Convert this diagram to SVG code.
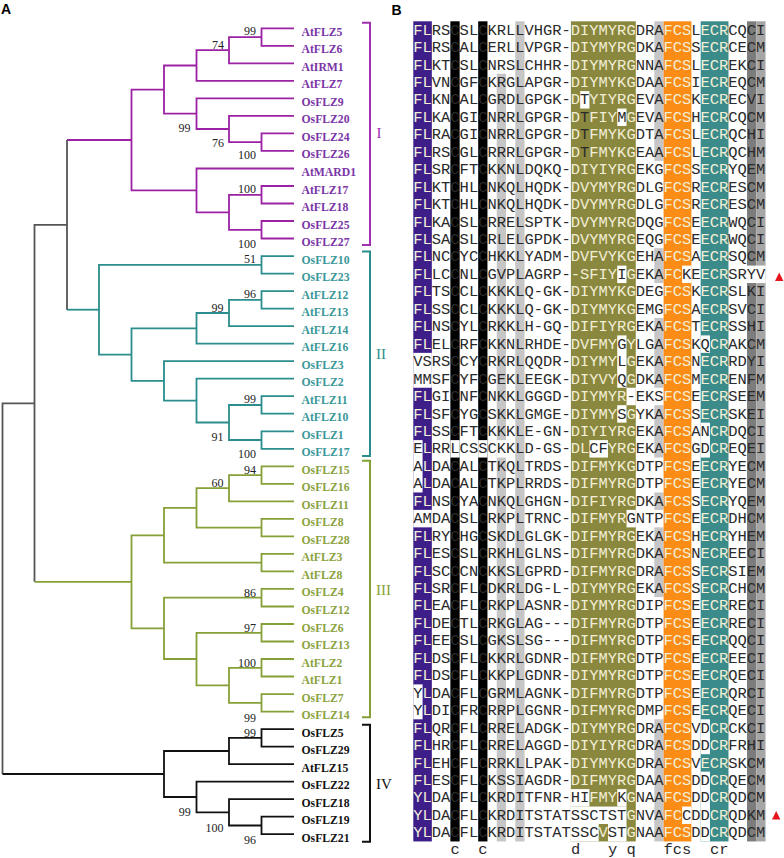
<svg xmlns="http://www.w3.org/2000/svg" width="784" height="858" viewBox="0 0 784 858">
<style>
.lbl{font-family:"Liberation Serif","Times New Roman",serif;font-weight:bold;font-size:11.7px}
.c1{fill:#7a35a6}.c2{fill:#3a9799}.c3{fill:#8aa23e}.c4{fill:#111}
.bs{font-family:"Liberation Serif","Times New Roman",serif;font-size:12px;fill:#222;text-anchor:end}
.rn{font-family:"Liberation Serif","Times New Roman",serif;font-size:15px}
.pn{font-family:"Liberation Sans",Arial,sans-serif;font-weight:bold;font-size:14px;fill:#000}
path{fill:none;stroke-width:1.8}
.t1{stroke:#9b22a3}.t2{stroke:#2b8d8d}.t3{stroke:#86a038}.t4{stroke:#111;stroke-width:2}.t0{stroke:#555;stroke-width:1.3}
.br{stroke-width:2}
.aln{font-family:"Liberation Mono","Courier New",monospace;font-size:15.45px;fill:#2a2a2a}
.w{fill:#f2eed6}
.pu{fill:#3e1f8a}.bk{fill:#000}.lg{fill:#c6c6c6}.ol{fill:#8a883e}.or{fill:#fb8c16}.te{fill:#3b8b8a}.dg{fill:#7c7c7c}.mg{fill:#a6a6a6}.wh{fill:#fff}
.tri{fill:#e8141b}
</style>
<rect width="784" height="858" fill="#fff"/>
<text class="pn" x="1" y="14">A</text>
<text class="pn" x="391.5" y="15">B</text>

<g id="connectors">
<g class="t1">
<path d="M294 28.3H261.5V45.8H294"/>
<path d="M261.5 37.1H229V63.3H294"/>
<path d="M229 50.2H196.5V80.9H294"/>
<path d="M294 133.4H261.5V150.9H294"/>
<path d="M294 115.9H229V142.2H261.5"/>
<path d="M294 98.4H196.5V129H229"/>
<path d="M196.5 65.5H164V113.7H196.5"/>
<path d="M294 186H261.5V203.5H294"/>
<path d="M294 221H261.5V238.5H294"/>
<path d="M261.5 194.8H229V229.8H261.5"/>
<path d="M294 168.5H196.5V212.3H229"/>
<path d="M164 89.6H131.5V190.4H196.5"/>
<path d="M131.5 140H67"/>
</g>
<g class="t2">
<path d="M294 256.1H261.5V273.6H294"/>
<path d="M294 291.1H261.5V308.6H294"/>
<path d="M261.5 299.9H229V326.1H294"/>
<path d="M229 313H196.5V343.7H294"/>
<path d="M294 396.2H261.5V413.7H294"/>
<path d="M294 431.3H261.5V448.8H294"/>
<path d="M261.5 405H229V440H261.5"/>
<path d="M294 378.7H196.5V422.5H229"/>
<path d="M294 361.2H164V400.6H196.5"/>
<path d="M196.5 328.3H131.5V380.9H164"/>
<path d="M261.5 264.8H99V354.6H131.5"/>
<path d="M99 309.7H67"/>
</g>
<g class="t0">
<path d="M67 140V309.7"/>
<path d="M67 224.9H34.5V581.8"/>
<path d="M34.5 403.4H2.5V774"/>
</g>
<g class="t3">
<path d="M294 466.3H261.5V483.8H294"/>
<path d="M261.5 475.1H229V501.3H294"/>
<path d="M294 518.9H261.5V536.4H294"/>
<path d="M229 488.2H196.5V527.6H261.5"/>
<path d="M294 553.9H261.5V571.4H294"/>
<path d="M196.5 507.9H164V562.7H261.5"/>
<path d="M294 588.9H261.5V606.5H294"/>
<path d="M294 624H261.5V641.5H294"/>
<path d="M294 659H261.5V676.5H294"/>
<path d="M294 694.1H261.5V711.6H294"/>
<path d="M261.5 667.8H229V702.8H261.5"/>
<path d="M261.5 632.8H196.5V685.3H229"/>
<path d="M261.5 597.7H164V659H196.5"/>
<path d="M164 535.3H131.5V628.4H164"/>
<path d="M131.5 581.8H34.5"/>
</g>
<g class="t4">
<path d="M294 729.1H261.5V746.6H294"/>
<path d="M261.5 737.9H229V764.1H294"/>
<path d="M294 816.7H261.5V834.2H294"/>
<path d="M294 799.2H229V825.5H261.5"/>
<path d="M294 781.7H196.5V812.3H229"/>
<path d="M229 751H164V797H196.5"/>
<path d="M164 774H2.5"/>
</g>
</g>

<g id="bootstrap" class="bs">
<text x="256" y="35">99</text>
<text x="224" y="49">74</text>
<text x="190.5" y="132.3">99</text>
<text x="224" y="146.7">76</text>
<text x="256" y="159.3">100</text>
<text x="256" y="193.3">100</text>
<text x="256" y="248.3">100</text>
<text x="256" y="263.3">51</text>
<text x="256" y="298.3">96</text>
<text x="223.5" y="311.7">99</text>
<text x="256" y="403.3">99</text>
<text x="223.5" y="440.7">91</text>
<text x="256" y="458.3">100</text>
<text x="256" y="474.3">94</text>
<text x="223.5" y="486.7">60</text>
<text x="256" y="596.7">86</text>
<text x="256" y="631.7">97</text>
<text x="256" y="666.7">100</text>
<text x="256" y="721.7">99</text>
<text x="256" y="737.3">99</text>
<text x="190.7" y="815.7">99</text>
<text x="223.5" y="831.7">100</text>
<text x="256" y="844.3">96</text>
</g>

<g id="leaves" class="lbl">
<g id="leaf-AtFLZ5"><text class="c1" x="301.5" y="35.8">AtFLZ5</text></g>
<g id="leaf-AtFLZ6"><text class="c1" x="301.5" y="53.3">AtFLZ6</text></g>
<g id="leaf-AtIRM1"><text class="c1" x="301.5" y="70.8">AtIRM1</text></g>
<g id="leaf-AtFLZ7"><text class="c1" x="301.5" y="88.4">AtFLZ7</text></g>
<g id="leaf-OsFLZ9"><text class="c1" x="301.5" y="105.9">OsFLZ9</text></g>
<g id="leaf-OsFLZ20"><text class="c1" x="301.5" y="123.4">OsFLZ20</text></g>
<g id="leaf-OsFLZ24"><text class="c1" x="301.5" y="140.9">OsFLZ24</text></g>
<g id="leaf-OsFLZ26"><text class="c1" x="301.5" y="158.4">OsFLZ26</text></g>
<g id="leaf-AtMARD1"><text class="c1" x="301.5" y="176">AtMARD1</text></g>
<g id="leaf-AtFLZ17"><text class="c1" x="301.5" y="193.5">AtFLZ17</text></g>
<g id="leaf-AtFLZ18"><text class="c1" x="301.5" y="211">AtFLZ18</text></g>
<g id="leaf-OsFLZ25"><text class="c1" x="301.5" y="228.5">OsFLZ25</text></g>
<g id="leaf-OsFLZ27"><text class="c1" x="301.5" y="246">OsFLZ27</text></g>
<g id="leaf-OsFLZ10"><text class="c2" x="301.5" y="263.6">OsFLZ10</text></g>
<g id="leaf-OsFLZ23"><text class="c2" x="301.5" y="281.1">OsFLZ23</text></g>
<g id="leaf-AtFLZ12"><text class="c2" x="301.5" y="298.6">AtFLZ12</text></g>
<g id="leaf-AtFLZ13"><text class="c2" x="301.5" y="316.1">AtFLZ13</text></g>
<g id="leaf-AtFLZ14"><text class="c2" x="301.5" y="333.6">AtFLZ14</text></g>
<g id="leaf-AtFLZ16"><text class="c2" x="301.5" y="351.2">AtFLZ16</text></g>
<g id="leaf-OsFLZ3"><text class="c2" x="301.5" y="368.7">OsFLZ3</text></g>
<g id="leaf-OsFLZ2"><text class="c2" x="301.5" y="386.2">OsFLZ2</text></g>
<g id="leaf-AtFLZ11"><text class="c2" x="301.5" y="403.7">AtFLZ11</text></g>
<g id="leaf-AtFLZ10"><text class="c2" x="301.5" y="421.2">AtFLZ10</text></g>
<g id="leaf-OsFLZ1"><text class="c2" x="301.5" y="438.8">OsFLZ1</text></g>
<g id="leaf-OsFLZ17"><text class="c2" x="301.5" y="456.3">OsFLZ17</text></g>
<g id="leaf-OsFLZ15"><text class="c3" x="301.5" y="473.8">OsFLZ15</text></g>
<g id="leaf-OsFLZ16"><text class="c3" x="301.5" y="491.3">OsFLZ16</text></g>
<g id="leaf-OsFLZ11"><text class="c3" x="301.5" y="508.8">OsFLZ11</text></g>
<g id="leaf-OsFLZ8"><text class="c3" x="301.5" y="526.4">OsFLZ8</text></g>
<g id="leaf-OsFLZ28"><text class="c3" x="301.5" y="543.9">OsFLZ28</text></g>
<g id="leaf-AtFLZ3"><text class="c3" x="301.5" y="561.4">AtFLZ3</text></g>
<g id="leaf-AtFLZ8"><text class="c3" x="301.5" y="578.9">AtFLZ8</text></g>
<g id="leaf-OsFLZ4"><text class="c3" x="301.5" y="596.4">OsFLZ4</text></g>
<g id="leaf-OsFLZ12"><text class="c3" x="301.5" y="614">OsFLZ12</text></g>
<g id="leaf-OsFLZ6"><text class="c3" x="301.5" y="631.5">OsFLZ6</text></g>
<g id="leaf-OsFLZ13"><text class="c3" x="301.5" y="649">OsFLZ13</text></g>
<g id="leaf-AtFLZ2"><text class="c3" x="301.5" y="666.5">AtFLZ2</text></g>
<g id="leaf-AtFLZ1"><text class="c3" x="301.5" y="684">AtFLZ1</text></g>
<g id="leaf-OsFLZ7"><text class="c3" x="301.5" y="701.6">OsFLZ7</text></g>
<g id="leaf-OsFLZ14"><text class="c3" x="301.5" y="719.1">OsFLZ14</text></g>
<g id="leaf-OsFLZ5"><text class="c4" x="301.5" y="736.6">OsFLZ5</text></g>
<g id="leaf-OsFLZ29"><text class="c4" x="301.5" y="754.1">OsFLZ29</text></g>
<g id="leaf-AtFLZ15"><text class="c4" x="301.5" y="771.6">AtFLZ15</text></g>
<g id="leaf-OsFLZ22"><text class="c4" x="301.5" y="789.2">OsFLZ22</text></g>
<g id="leaf-OsFLZ18"><text class="c4" x="301.5" y="806.7">OsFLZ18</text></g>
<g id="leaf-OsFLZ19"><text class="c4" x="301.5" y="824.2">OsFLZ19</text></g>
<g id="leaf-OsFLZ21"><text class="c4" x="301.5" y="841.7">OsFLZ21</text></g>
</g>

<g id="clades">
<g id="clade-I"><path class="br" stroke="#a030b0" d="M362 22.7H370V245H362"/><text class="rn" fill="#a030b0" x="376.5" y="138">I</text></g>
<g id="clade-II"><path class="br" stroke="#2b8d8d" d="M362 251.5H370V456H362"/><text class="rn" fill="#2b8d8d" x="376" y="358.5">II</text></g>
<g id="clade-III"><path class="br" stroke="#86a038" d="M362 460.7H370V717.3H362"/><text class="rn" fill="#86a038" x="376" y="595">III</text></g>
<g id="clade-IV"><path class="br" stroke="#111" d="M362 724.7H370V841.7H362"/><text class="rn" fill="#111" x="376" y="788.5">IV</text></g>
</g>

<g id="alignment-shading" transform="translate(413.3 21.3) scale(9.27 17.45)">
<rect class="pu" x="0" y="0" width="2" height="47"/>
<rect class="bk" x="4" y="0" width="1" height="47"/>
<rect class="bk" x="7" y="0" width="1" height="47"/>
<rect class="lg" x="9" y="3" width="1" height="44"/>
<rect class="lg" x="11" y="0" width="1" height="47"/>
<rect class="ol" x="17" y="0" width="7" height="47"/>
<rect class="lg" x="26" y="0" width="1" height="8"/>
<rect class="lg" x="26" y="13" width="1" height="2"/>
<rect class="lg" x="26" y="17" width="1" height="4"/>
<rect class="lg" x="26" y="22" width="1" height="3"/>
<rect class="lg" x="26" y="27" width="1" height="1"/>
<rect class="lg" x="26" y="29" width="1" height="4"/>
<rect class="lg" x="26" y="40" width="1" height="7"/>
<rect class="or" x="27" y="0" width="3" height="47"/>
<rect class="te" x="31" y="0" width="3" height="47"/>
<rect class="dg" x="36" y="0" width="1" height="47"/>
<rect class="mg" x="37" y="0" width="1" height="47"/>
<rect class="wh" x="0" y="19" width="2" height="2"/>
<rect class="wh" x="0" y="28" width="2" height="1"/>
<rect class="wh" x="0" y="24" width="1" height="3"/>
<rect class="wh" x="0" y="38" width="1" height="2"/>
<rect class="wh" x="4" y="24" width="1" height="1"/>
<rect class="wh" x="7" y="24" width="1" height="1"/>
<rect class="wh" x="9" y="24" width="1" height="1"/>
<rect class="wh" x="18" y="4" width="1" height="1"/>
<rect class="wh" x="22" y="5" width="1" height="1"/>
<rect class="wh" x="22" y="14" width="1" height="1"/>
<rect class="wh" x="22" y="18" width="1" height="3"/>
<rect class="wh" x="23" y="21" width="1" height="1"/>
<rect class="wh" x="22" y="22" width="1" height="1"/>
<rect class="wh" x="19" y="24" width="2" height="1"/>
<rect class="wh" x="23" y="28" width="1" height="1"/>
<rect class="wh" x="17" y="44" width="2" height="1"/>
<rect class="wh" x="22" y="44" width="1" height="1"/>
<rect class="wh" x="17" y="45" width="6" height="1"/>
<rect class="wh" x="17" y="46" width="3" height="1"/>
<rect class="wh" x="21" y="46" width="2" height="1"/>
<rect class="wh" x="29" y="14" width="1" height="1"/>
<rect class="wh" x="29" y="45" width="1" height="1"/>
<rect class="wh" x="31" y="18" width="1" height="1"/>
<rect class="wh" x="31" y="23" width="1" height="2"/>
<rect class="wh" x="31" y="40" width="1" height="2"/>
<rect class="wh" x="31" y="43" width="1" height="4"/>
<rect class="wh" x="36" y="14" width="2" height="1"/>
</g>

<g id="alignment" class="aln">
<text x="413.3" y="34.6"><tspan class="w">FL</tspan>RSCSLCKRLLVHGR-<tspan class="w">DIYMYRG</tspan>DRA<tspan class="w">FCS</tspan>L<tspan class="w">ECR</tspan>CQCI</text>
<text x="413.3" y="52.05"><tspan class="w">FL</tspan>RSCALCERLLVPGR-<tspan class="w">DIYMYRG</tspan>DKA<tspan class="w">FCS</tspan>S<tspan class="w">ECR</tspan>CECM</text>
<text x="413.3" y="69.5"><tspan class="w">FL</tspan>KTCSLCNRSLCHHR-<tspan class="w">DIYMYRG</tspan>NNA<tspan class="w">FCS</tspan>L<tspan class="w">ECR</tspan>EKCI</text>
<text x="413.3" y="86.95"><tspan class="w">FL</tspan>VNCGFCKRGLAPGR-<tspan class="w">DIYMYKG</tspan>DAA<tspan class="w">FCS</tspan>I<tspan class="w">ECR</tspan>EQCM</text>
<text x="413.3" y="104.4"><tspan class="w">FL</tspan>KNCALCGRDLGPGK-<tspan class="w">D</tspan>T<tspan class="w">YIYRG</tspan>EVA<tspan class="w">FCS</tspan>K<tspan class="w">ECR</tspan>ECVI</text>
<text x="413.3" y="121.85"><tspan class="w">FL</tspan>KACGICNRRLGPGR-<tspan class="w">D</tspan>T<tspan class="w">FIY</tspan>M<tspan class="w">G</tspan>EVA<tspan class="w">FCS</tspan>H<tspan class="w">ECR</tspan>CQCM</text>
<text x="413.3" y="139.3"><tspan class="w">FL</tspan>RACGICNRRLGPGR-<tspan class="w">D</tspan>T<tspan class="w">FMYKG</tspan>DTA<tspan class="w">FCS</tspan>L<tspan class="w">ECR</tspan>QCHI</text>
<text x="413.3" y="156.75"><tspan class="w">FL</tspan>RSCGLCRRRLGPGR-<tspan class="w">D</tspan>T<tspan class="w">FMYKG</tspan>EAA<tspan class="w">FCS</tspan>L<tspan class="w">ECR</tspan>QCHM</text>
<text x="413.3" y="174.2"><tspan class="w">FL</tspan>SRCFTCKKNLDQKQ-<tspan class="w">DIYIYRG</tspan>EKG<tspan class="w">FCS</tspan>S<tspan class="w">ECR</tspan>YQEM</text>
<text x="413.3" y="191.65"><tspan class="w">FL</tspan>KTCHLCNKQLHQDK-<tspan class="w">DVYMYRG</tspan>DLG<tspan class="w">FCS</tspan>R<tspan class="w">ECR</tspan>ESCM</text>
<text x="413.3" y="209.1"><tspan class="w">FL</tspan>KTCHLCNKQLHQDK-<tspan class="w">DVYMYRG</tspan>DLG<tspan class="w">FCS</tspan>R<tspan class="w">ECR</tspan>ESCM</text>
<text x="413.3" y="226.55"><tspan class="w">FL</tspan>KACSLCRRELSPTK-<tspan class="w">DVYMYRG</tspan>DQG<tspan class="w">FCS</tspan>E<tspan class="w">ECR</tspan>WQCI</text>
<text x="413.3" y="244"><tspan class="w">FL</tspan>SACSLCRLELGPDK-<tspan class="w">DVYMYRG</tspan>EQG<tspan class="w">FCS</tspan>E<tspan class="w">ECR</tspan>WQCI</text>
<text x="413.3" y="261.45"><tspan class="w">FL</tspan>NCCYCCHKKLYADM-<tspan class="w">DVFVYKG</tspan>EHA<tspan class="w">FCS</tspan>A<tspan class="w">ECR</tspan>SQCM</text>
<text x="413.3" y="278.9"><tspan class="w">FL</tspan>LCCNLCGVPLAGRP-<tspan class="w">-SFIY</tspan>I<tspan class="w">G</tspan>EKA<tspan class="w">FC</tspan>KE<tspan class="w">ECR</tspan>SRYV</text>
<text x="413.3" y="296.35"><tspan class="w">FL</tspan>TSCCLCKKKLQ-GK-<tspan class="w">DIYMYKG</tspan>DEG<tspan class="w">FCS</tspan>K<tspan class="w">ECR</tspan>SLKI</text>
<text x="413.3" y="313.8"><tspan class="w">FL</tspan>SSCCLCKKKLQ-GK-<tspan class="w">DIYMYKG</tspan>EMG<tspan class="w">FCS</tspan>A<tspan class="w">ECR</tspan>SVCI</text>
<text x="413.3" y="331.25"><tspan class="w">FL</tspan>NSCYLCRKKLH-GQ-<tspan class="w">DIFIYRG</tspan>EKA<tspan class="w">FCS</tspan>T<tspan class="w">ECR</tspan>SSHI</text>
<text x="413.3" y="348.7"><tspan class="w">FL</tspan>ELCRFCKKNLRHDE-<tspan class="w">DVFMY</tspan>G<tspan class="w">Y</tspan>LGA<tspan class="w">FCS</tspan>KQ<tspan class="w">CR</tspan>AKCM</text>
<text x="413.3" y="366.15">VSRSCCYCRKRLQQDR-<tspan class="w">DIYMY</tspan>L<tspan class="w">G</tspan>EKA<tspan class="w">FCS</tspan>N<tspan class="w">ECR</tspan>RDYI</text>
<text x="413.3" y="383.6">MMSFCYFCGEKLEEGK-<tspan class="w">DIYVY</tspan>Q<tspan class="w">G</tspan>DKA<tspan class="w">FCS</tspan>M<tspan class="w">ECR</tspan>ENFM</text>
<text x="413.3" y="401.05"><tspan class="w">FL</tspan>GICNFCNKKLGGGD-<tspan class="w">DIYMYR</tspan>-EKS<tspan class="w">FCS</tspan>E<tspan class="w">ECR</tspan>SEEM</text>
<text x="413.3" y="418.5"><tspan class="w">FL</tspan>SFCYGCSKKLGMGE-<tspan class="w">DIYMY</tspan>S<tspan class="w">G</tspan>YKA<tspan class="w">FCS</tspan>S<tspan class="w">ECR</tspan>SKEI</text>
<text x="413.3" y="435.95"><tspan class="w">FL</tspan>SSCFTCKKKLE-GN-<tspan class="w">DIYIYRG</tspan>EKA<tspan class="w">FCS</tspan>AN<tspan class="w">CR</tspan>DQCI</text>
<text x="413.3" y="453.4">E<tspan class="w">L</tspan>RRLCSSCKKLD-GS-<tspan class="w">DL</tspan>CF<tspan class="w">YRG</tspan>EKA<tspan class="w">FCS</tspan>GD<tspan class="w">CR</tspan>EQEI</text>
<text x="413.3" y="470.85">A<tspan class="w">L</tspan>DACALCTKQLTRDS-<tspan class="w">DIFMYKG</tspan>DTP<tspan class="w">FCS</tspan>E<tspan class="w">ECR</tspan>YECM</text>
<text x="413.3" y="488.3">A<tspan class="w">L</tspan>DACALCTKPLRRDS-<tspan class="w">DIFMYRG</tspan>DTP<tspan class="w">FCS</tspan>E<tspan class="w">ECR</tspan>YECM</text>
<text x="413.3" y="505.75"><tspan class="w">FL</tspan>NSCYACNKQLGHGN-<tspan class="w">DIFIYRG</tspan>DKA<tspan class="w">FCS</tspan>S<tspan class="w">ECR</tspan>YQEM</text>
<text x="413.3" y="523.2">AMDACSLCRKPLTRNC-<tspan class="w">DIFMYR</tspan>GNTP<tspan class="w">FCS</tspan>E<tspan class="w">ECR</tspan>DHCM</text>
<text x="413.3" y="540.65"><tspan class="w">FL</tspan>RYCHGCSKDLGLGK-<tspan class="w">DIFMYRG</tspan>EKA<tspan class="w">FCS</tspan>H<tspan class="w">ECR</tspan>YHEM</text>
<text x="413.3" y="558.1"><tspan class="w">FL</tspan>ESCSLCRKHLGLNS-<tspan class="w">DIFMYRG</tspan>DKA<tspan class="w">FCS</tspan>N<tspan class="w">ECR</tspan>EECI</text>
<text x="413.3" y="575.55"><tspan class="w">FL</tspan>SCCCNCKKSLGPRD-<tspan class="w">DIFMYRG</tspan>DRA<tspan class="w">FCS</tspan>S<tspan class="w">ECR</tspan>SIEM</text>
<text x="413.3" y="593"><tspan class="w">FL</tspan>SRCFLCDKRLDG-L-<tspan class="w">DIYMYRG</tspan>EKA<tspan class="w">FCS</tspan>S<tspan class="w">ECR</tspan>CHCM</text>
<text x="413.3" y="610.45"><tspan class="w">FL</tspan>EACFLCRKPLASNR-<tspan class="w">DIYMYRG</tspan>DIP<tspan class="w">FCS</tspan>E<tspan class="w">ECR</tspan>RECI</text>
<text x="413.3" y="627.9"><tspan class="w">FL</tspan>DECTLCRKGLAG---<tspan class="w">DIFMYRG</tspan>DTP<tspan class="w">FCS</tspan>E<tspan class="w">ECR</tspan>RECI</text>
<text x="413.3" y="645.35"><tspan class="w">FL</tspan>EECSLCGKSLSG---<tspan class="w">DIFMYRG</tspan>DTP<tspan class="w">FCS</tspan>E<tspan class="w">ECR</tspan>QQCI</text>
<text x="413.3" y="662.8"><tspan class="w">FL</tspan>DSCFLCKKRLGDNR-<tspan class="w">DIFMYRG</tspan>DTP<tspan class="w">FCS</tspan>E<tspan class="w">ECR</tspan>EECI</text>
<text x="413.3" y="680.25"><tspan class="w">FL</tspan>DSCFLCKKPLGDNR-<tspan class="w">DIYMYRG</tspan>DTP<tspan class="w">FCS</tspan>E<tspan class="w">ECR</tspan>QECI</text>
<text x="413.3" y="697.7">Y<tspan class="w">L</tspan>DACFLCGRMLAGNK-<tspan class="w">DIFMYRG</tspan>DTP<tspan class="w">FCS</tspan>E<tspan class="w">ECR</tspan>QRCI</text>
<text x="413.3" y="715.15">Y<tspan class="w">L</tspan>DICFRCRRPLGGNR-<tspan class="w">DIFMYRG</tspan>DMP<tspan class="w">FCS</tspan>E<tspan class="w">ECR</tspan>QECI</text>
<text x="413.3" y="732.6"><tspan class="w">FL</tspan>QRCFLCRRELADGK-<tspan class="w">DIYMYRG</tspan>DRA<tspan class="w">FCS</tspan>VD<tspan class="w">CR</tspan>CKCI</text>
<text x="413.3" y="750.05"><tspan class="w">FL</tspan>HRCFLCRRELAGGD-<tspan class="w">DIYIYRG</tspan>DRA<tspan class="w">FCS</tspan>DD<tspan class="w">CR</tspan>FRHI</text>
<text x="413.3" y="767.5"><tspan class="w">FL</tspan>EHCFLCRRKLLPAK-<tspan class="w">DIYMYKG</tspan>DRA<tspan class="w">FCS</tspan>V<tspan class="w">ECR</tspan>SKCM</text>
<text x="413.3" y="784.95"><tspan class="w">FL</tspan>ESCFLCKSSIAGDR-<tspan class="w">DIFMYRG</tspan>DAA<tspan class="w">FCS</tspan>DD<tspan class="w">CR</tspan>QECM</text>
<text x="413.3" y="802.4"><tspan class="w">YL</tspan>DACFLCKRDITFNR-HI<tspan class="w">FMY</tspan>K<tspan class="w">G</tspan>NAA<tspan class="w">FCS</tspan>DD<tspan class="w">CR</tspan>QDCM</text>
<text x="413.3" y="819.85"><tspan class="w">YL</tspan>DACFLCKRDITSTATSSCTST<tspan class="w">G</tspan>NVA<tspan class="w">FC</tspan>CDD<tspan class="w">CR</tspan>QDKM</text>
<text x="413.3" y="837.3"><tspan class="w">YL</tspan>DACFLCKRDITSTATSSC<tspan class="w">V</tspan>ST<tspan class="w">G</tspan>NAA<tspan class="w">FCS</tspan>DD<tspan class="w">CR</tspan>QDCM</text>
</g>

<g id="consensus" class="aln">
<text x="450.38" y="853.5">c</text>
<text x="478.19" y="853.5">c</text>
<text x="570.89" y="853.5">d</text>
<text x="607.97" y="853.5">y</text>
<text x="626.51" y="853.5">q</text>
<text x="663.59" y="853.5">fcs</text>
<text x="709.94" y="853.5">cr</text>
</g>

<g id="markers">
<polygon class="tri" points="775,281 779.2,272.5 783.4,281"/>
<polygon class="tri" points="772,819.5 776.2,811 780.4,819.5"/>
</g>
</svg>
